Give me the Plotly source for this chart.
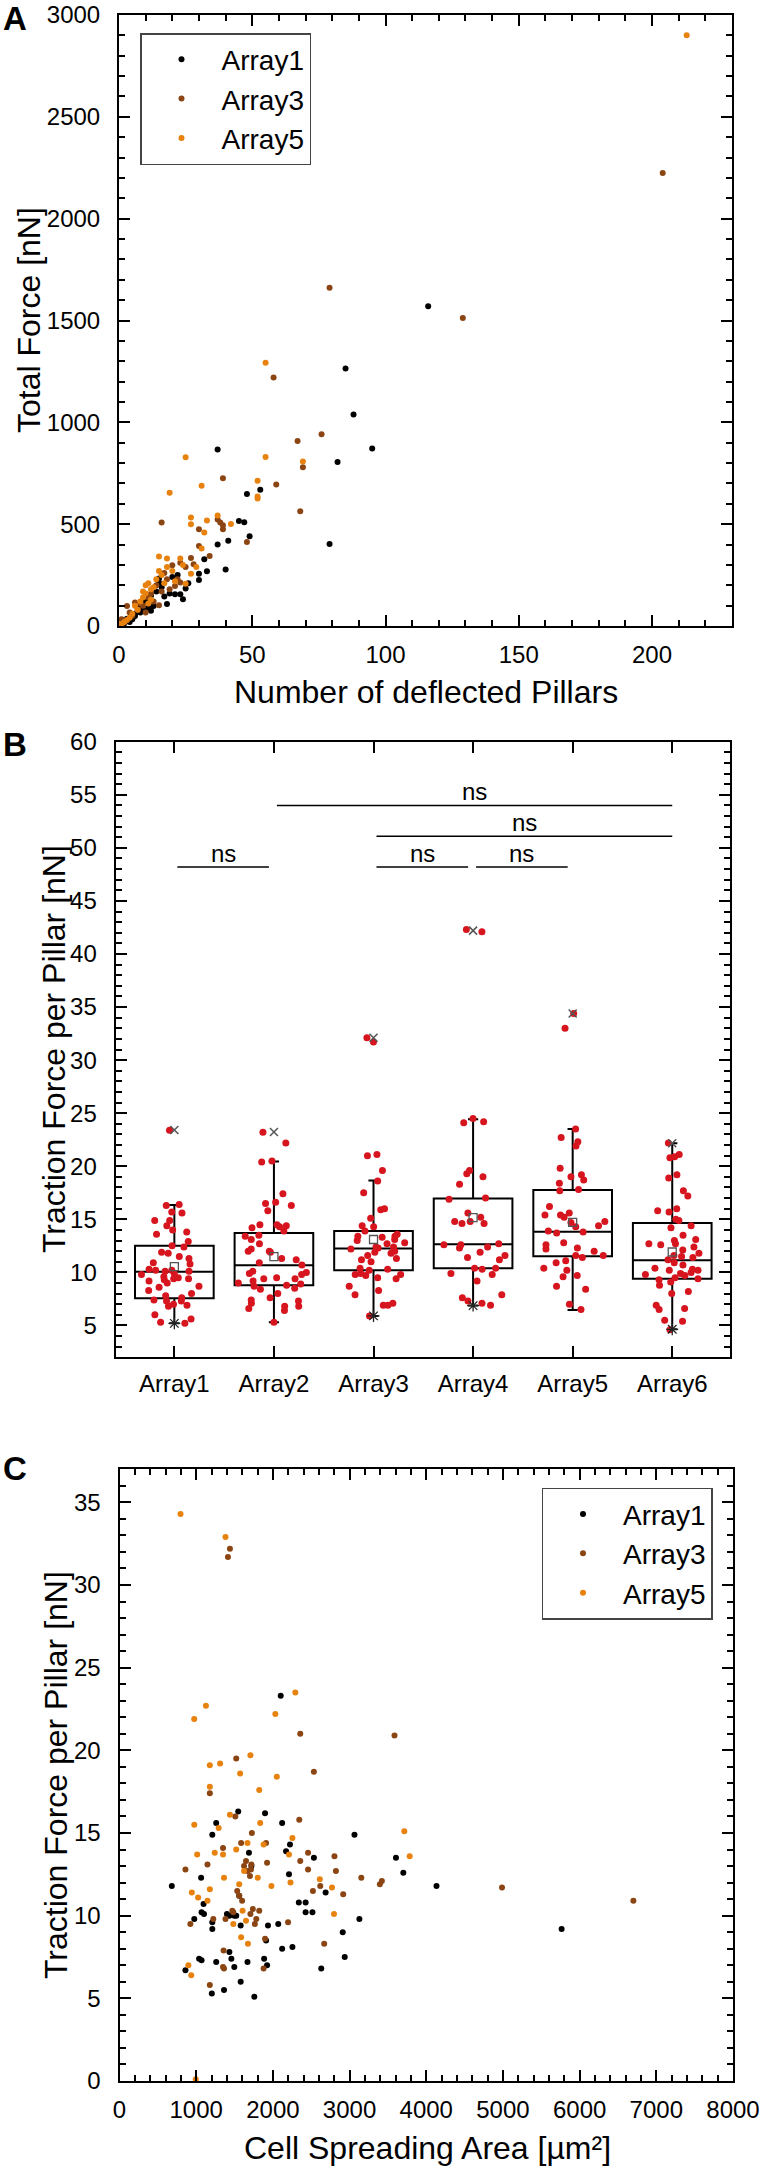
import plotly.graph_objects as go

FONT = "Liberation Sans, Arial, sans-serif"
W, H = 762, 2172

# ---------------- Panel A: number of deflected pillars vs total force ----------------
a1_pillars = [116, 85, 88, 95, 82, 79, 37, 48, 53, 45, 47, 49, 41, 37, 32, 40, 33, 30, 30, 25, 24, 21, 23, 18,
              15, 15, 13, 11, 9, 8, 6, 5, 4, 2, 1, 12, 16, 20, 10, 7, 3, 14, 19, 22, 26, 12, 17, 6]
a1_force = [1570, 1264, 1039, 872, 805, 403, 866, 648, 669, 516, 510, 441, 418, 400, 328, 277, 269, 256, 226, 184,
            131, 156, 156, 108, 233, 213, 98, 90, 82, 66, 49, 33, 20, 13, 8, 150, 190, 240, 120, 90, 35, 170, 160,
            250, 210, 75, 145, 60]
a3_pillars = [204, 79, 129, 58, 76, 67, 69, 59, 39, 68, 16, 38, 39, 37, 39, 30, 48, 30, 34, 27, 25, 23, 20, 23, 21,
              28, 15, 6, 3, 4, 1, 10, 18, 12, 14, 8, 17, 19, 11, 5, 9, 13, 22, 7, 2, 16]
a3_force = [2224, 1661, 1512, 1220, 941, 908, 780, 695, 726, 564, 508, 508, 475, 523, 495, 475, 413, 393, 344, 334,
            290, 311, 298, 213, 197, 303, 102, 115, 98, 66, 33, 66, 230, 160, 200, 110, 260, 180, 140, 50, 100, 120,
            230, 80, 20, 170]
a5_pillars = [213, 55, 55, 69, 52, 52, 52, 31, 25, 19, 27, 27, 33, 37, 42, 32, 31, 15, 18, 23, 29, 25, 27, 15, 10,
              12, 11, 9, 13, 14, 8, 6, 7, 5, 4, 3, 2, 16, 17, 20, 21, 24, 10, 12, 9, 11, 1, 18]
a5_force = [2900, 1293, 830, 808, 713, 636, 626, 689, 828, 654, 533, 500, 518, 543, 501, 459, 380, 341, 331, 331,
            290, 207, 257, 270, 200, 180, 210, 140, 190, 230, 120, 100, 80, 60, 40, 30, 20, 250, 210, 270, 220, 300,
            160, 130, 170, 110, 10, 290]

# ---------------- Panel B: traction force per pillar per array ----------------
b_categories = ["Array1", "Array2", "Array3", "Array4", "Array5", "Array6"]
b_array1 = [23.4, 16.4, 16.3, 15.7, 15.6, 14.9, 14.9, 14.4, 14.0, 13.8, 13.6, 12.9, 12.5, 12.4, 11.9, 11.8, 11.5,
            11.3, 10.9, 10.8, 10.3, 10.2, 10.2, 10.1, 10.1, 9.9, 9.8, 9.6, 9.5, 9.4, 9.4, 9.3, 9.2, 9.0, 8.7, 8.6,
            8.3, 8.0, 7.8, 7.4, 7.3, 7.3, 7.0, 6.9, 6.8, 6.0, 5.6, 5.3, 5.2, 7.6]
b_array2 = [23.2, 22.2, 20.5, 20.4, 17.4, 16.6, 16.5, 16.3, 15.8, 14.5, 14.5, 14.4, 14.3, 14.2, 13.9, 13.5, 13.4,
            13.1, 12.7, 12.2, 12.0, 12.0, 11.9, 11.3, 11.2, 10.9, 10.7, 10.1, 10.0, 9.9, 9.8, 9.5, 9.4, 9.4, 9.2,
            9.0, 8.9, 8.8, 8.7, 8.5, 8.4, 8.0, 7.6, 7.4, 7.3, 7.1, 6.8, 6.8, 6.6, 6.4, 5.3]
b_array3 = [32.1, 31.7, 21.1, 21.0, 19.6, 18.6, 17.5, 16.0, 15.9, 15.1, 14.4, 14.3, 13.9, 13.6, 13.4, 13.4, 13.3,
            13.1, 13.0, 12.8, 12.7, 12.4, 12.4, 12.3, 12.2, 12.0, 11.9, 11.8, 11.6, 11.3, 11.2, 11.0, 10.4, 10.3,
            10.2, 9.9, 9.8, 9.8, 9.7, 9.5, 9.4, 8.7, 8.3, 7.9, 7.1, 6.9, 6.9, 5.9]
b_array4 = [42.3, 42.1, 24.5, 24.2, 24.1, 19.6, 19.3, 19.0, 18.3, 17.0, 16.9, 15.6, 15.2, 14.8, 14.8, 14.6, 14.6,
            12.7, 12.6, 12.6, 12.4, 12.3, 11.9, 11.6, 11.4, 11.2, 10.4, 10.4, 10.3, 9.9, 9.8, 9.2, 7.9, 7.6, 7.3,
            7.1, 6.9]
b_array5 = [34.4, 33.0, 23.5, 22.7, 22.3, 21.9, 19.8, 19.2, 19.0, 18.7, 18.4, 17.8, 17.7, 16.2, 15.6, 15.4, 15.4,
            15.2, 14.8, 14.7, 14.4, 14.3, 13.9, 13.8, 13.7, 12.8, 12.6, 12.3, 12.2, 12.0, 11.6, 11.6, 11.4, 11.1,
            10.9, 10.4, 10.2, 9.7, 9.6, 8.7, 8.4, 7.0, 6.5]
b_array6 = [22.2, 21.1, 20.9, 20.8, 19.2, 18.9, 17.7, 17.2, 16.0, 15.8, 15.7, 15.0, 14.9, 14.4, 14.2, 13.5, 13.1,
            13.0, 12.7, 12.7, 12.6, 12.4, 12.1, 11.8, 11.6, 11.5, 11.4, 11.2, 10.9, 10.7, 10.4, 10.3, 10.2, 10.0,
            9.9, 9.8, 9.7, 9.5, 9.4, 9.3, 9.1, 8.8, 8.2, 8.0, 6.9, 6.6, 6.5, 5.5, 5.4, 4.6, 10.2]
b_q1 = [7.56, 8.78, 10.2, 10.39, 11.52, 9.41]
b_median = [10.07, 10.67, 12.24, 12.65, 13.84, 11.14]
b_q3 = [12.52, 13.72, 13.9, 16.95, 17.77, 14.66]
b_mean = [10.54, 11.49, 13.1, 15.16, 14.72, 11.92]
b_whisker_low = [5.2, 5.3, 5.9, 6.87, 6.46, 4.64]
b_whisker_high = [16.35, 20.44, 18.65, 24.43, 23.51, 22.16]
b_max_mark = [23.42, 23.23, 32.1, 42.2, 34.4, 22.16]
b_min_mark = [5.2, None, 5.9, 6.87, None, 4.64]
# significance brackets: (from category, to category, level)
sig_from = [1, 3, 4, 3, 2]
sig_to = [2, 4, 5, 6, 6]
sig_level = [48.2, 48.2, 48.2, 51.1, 54.0]
sig_text = ["ns", "ns", "ns", "ns", "ns"]

# ---------------- Panel C: cell spreading area vs traction per pillar ----------------
c1_area = [682, 860, 975, 1064, 1038, 1070, 1096, 1070, 1102, 1210, 1210, 1210, 1204, 1261, 1261, 1363, 1401, 1433,
           1497, 1522, 1433, 1459, 1497, 1548, 1561, 1580, 1580, 1688, 1669, 1720, 1758, 1898, 1886, 1911, 1936,
           1924, 2070, 2121, 2121, 2172, 2223, 2210, 2255, 2338, 2427, 2427, 2516, 2535, 2688, 2631, 2911, 2937,
           3064, 3128, 3605, 3701, 4134, 5765, 2102]
c1_force = [11.8, 6.7, 9.8, 12.3, 7.4, 7.3, 10.7, 10.2, 10.1, 14.9, 9.2, 9.6, 5.3, 15.6, 7.2, 5.5, 10.1, 10.0, 10.0,
            10.0, 7.8, 7.4, 6.9, 16.3, 11.2, 9.4, 6.0, 13.8, 7.2, 13.0, 5.1, 16.2, 7.4, 8.5, 9.4, 7.0, 9.5, 15.6, 8.0,
            13.9, 14.3, 12.5, 8.1, 10.8, 10.8, 10.2, 10.2, 13.5, 11.4, 6.8, 9.0, 7.5, 14.9, 9.8, 13.5, 12.6, 11.8,
            9.2, 23.3]
c3_area = [860, 924, 1147, 1178, 1178, 1223, 1350, 1357, 1350, 1363, 1382, 1471, 1484, 1522, 1510, 1535, 1561, 1586,
           1599, 1624, 1650, 1669, 1701, 1726, 1720, 1714, 1739, 1707, 1765, 1784, 1822, 1911, 1924, 1898, 1879,
           2198, 2344, 2357, 2459, 2459, 2522, 2535, 2618, 2669, 2803, 2822, 2917, 3153, 3395, 3421, 4988, 6701,
           1440, 1414, 2357, 3586]
c3_force = [12.8, 9.5, 13.1, 17.4, 5.8, 9.8, 14.1, 7.9, 6.9, 6.8, 9.8, 10.3, 10.2, 19.5, 16.0, 11.5, 11.2, 14.4,
            10.9, 13.0, 13.3, 12.7, 12.4, 15.0, 13.1, 12.8, 10.4, 10.1, 9.5, 9.8, 10.3, 14.4, 13.2, 8.6, 6.8, 9.6,
            15.8, 13.3, 13.8, 12.8, 11.5, 18.7, 11.8, 8.3, 13.6, 12.7, 11.3, 12.3, 11.9, 12.1, 11.7, 10.9, 32.2,
            31.7, 21.0, 20.9]
c5_area = [796, 1382, 2293, 1127, 974, 2032, 1178, 1312, 1707, 898, 936, 943, 975, 1013, 1025, 1147, 1178, 1178,
           1242, 1293, 1350, 1363, 1440, 1484, 1522, 1561, 1573, 1586, 1605, 1624, 1650, 1669, 1675, 1803, 1822,
           1835, 1879, 1981, 2051, 2210, 2230, 2255, 2612, 2771, 2797, 3714, 3784, 994]
c5_force = [34.3, 32.9, 23.5, 22.7, 21.9, 22.2, 19.1, 19.2, 19.7, 7.0, 6.4, 11.4, 15.5, 13.7, 11.1, 10.9, 17.8, 11.6,
            13.8, 15.3, 13.7, 12.3, 16.1, 9.5, 14.0, 11.9, 18.6, 8.7, 10.3, 12.7, 9.7, 14.4, 8.3, 12.3, 17.6, 15.6,
            14.3, 11.8, 18.4, 13.7, 12.0, 14.7, 12.2, 11.7, 10.1, 15.1, 13.6, 0.1]

series_names = ["Array1", "Array3", "Array5"]
series_colors = ["#000000", "#8B4513", "#E8820E"]
RED = "#D7151E"

fig = go.Figure()

# Panel A traces
for name, col, xs, ys in zip(series_names, series_colors,
                             [a1_pillars, a3_pillars, a5_pillars], [a1_force, a3_force, a5_force]):
    fig.add_trace(go.Scatter(x=xs, y=ys, mode="markers", name=name, xaxis="x", yaxis="y",
                             marker=dict(color=col, size=6), legend="legend"))

# Panel B traces
cat_pos = list(range(1, len(b_categories) + 1))
fig.add_trace(go.Box(x=cat_pos, q1=b_q1, median=b_median, q3=b_q3, lowerfence=b_whisker_low,
                     upperfence=b_whisker_high, xaxis="x2", yaxis="y2", width=0.79, whiskerwidth=0.13,
                     line=dict(color="black", width=2), fillcolor="rgba(0,0,0,0)", showlegend=False,
                     boxpoints=False))
all_vals = [b_array1, b_array2, b_array3, b_array4, b_array5, b_array6]
px_, py_ = [], []
for i, vals in enumerate(all_vals):
    px_ += [cat_pos[i]] * len(vals)
    py_ += vals
fig.add_trace(go.Box(x=px_, y=py_, xaxis="x2", yaxis="y2", boxpoints="all", jitter=1.0, pointpos=0,
                     width=0.79, line=dict(width=0, color="rgba(0,0,0,0)"), fillcolor="rgba(0,0,0,0)",
                     marker=dict(color=RED, size=7), showlegend=False))
fig.add_trace(go.Scatter(x=cat_pos, y=b_mean, mode="markers", xaxis="x2", yaxis="y2", showlegend=False,
                         marker=dict(symbol="square-open", size=8, color="#555555", line=dict(width=1.3))))
fig.add_trace(go.Scatter(x=cat_pos, y=b_max_mark, mode="markers", xaxis="x2", yaxis="y2", showlegend=False,
                         marker=dict(symbol="x-thin-open", size=8, color="#555555", line=dict(width=1.5))))
fig.add_trace(go.Scatter(x=cat_pos, y=b_min_mark, mode="markers", xaxis="x2", yaxis="y2", showlegend=False,
                         marker=dict(symbol="asterisk-open", size=10, color="#222222", line=dict(width=1.3))))

# Panel C traces
for name, col, xs, ys in zip(series_names, series_colors,
                             [c1_area, c3_area, c5_area], [c1_force, c3_force, c5_force]):
    fig.add_trace(go.Scatter(x=xs, y=ys, mode="markers", name=name, xaxis="x3", yaxis="y3",
                             marker=dict(color=col, size=6), legend="legend2"))


def px2x(p):
    return p / W


def px2y(p):
    return 1 - p / H


tickfont = dict(family=FONT, size=24, color="black")


def axis(domain, rng, dtick, minor_dtick=None, tick0=0, standoff=8, **kw):
    d = dict(domain=domain, range=rng, dtick=dtick, tick0=tick0, showline=True, linecolor="black",
             linewidth=2, mirror="allticks", ticks="inside", ticklen=11, tickwidth=2, tickcolor="black",
             showgrid=False, zeroline=False, tickfont=tickfont, ticklabelstandoff=standoff, automargin=False,
             ticklabeloverflow="allow")
    if minor_dtick:
        d["minor"] = dict(ticks="inside", ticklen=6, tickwidth=1.5, tickcolor="black", dtick=minor_dtick,
                          showgrid=False)
    d.update(kw)
    return d


A_dom_x = [px2x(119), px2x(732)]
A_dom_y = [px2y(626), px2y(15)]
B_dom_x = [px2x(115.6), px2x(730)]
B_dom_y = [px2y(1357.3), px2y(741.7)]
C_dom_x = [px2x(119.5), px2x(733)]
C_dom_y = [px2y(2081), px2y(1469.3)]

legend_style = dict(xanchor="left", yanchor="top", bordercolor="#444444", borderwidth=1.5, bgcolor="white",
                    font=dict(family=FONT, size=28, color="black"), tracegroupgap=0, itemwidth=70,
                    entrywidth=95)

fig.update_layout(
    width=W, height=H, margin=dict(l=0, r=0, t=0, b=0, autoexpand=False), paper_bgcolor="white",
    plot_bgcolor="white", font=dict(family=FONT, color="black"),
    xaxis=axis(A_dom_x, [0, 230], 50, 10, anchor="y", standoff=6),
    yaxis=axis(A_dom_y, [0, 3000], 500, 100, anchor="x", standoff=12),
    xaxis2=axis(B_dom_x, [0.41, 6.58], None, None, anchor="y2", tickmode="array", tickvals=cat_pos,
                ticktext=b_categories, standoff=4),
    yaxis2=axis(B_dom_y, [2, 60], 5, 1, anchor="x2", standoff=12),
    xaxis3=axis(C_dom_x, [0, 8000], 1000, 200, anchor="y3", standoff=6),
    yaxis3=axis(C_dom_y, [0, 37], 5, 1, anchor="x3", standoff=12),
    boxmode="overlay",
    legend=dict(x=px2x(140), y=px2y(33), **legend_style),
    legend2=dict(x=px2x(541.5), y=px2y(1487.7), **legend_style),
)

ann = []
title_font = dict(family=FONT, size=32, color="black")
ann.append(dict(text="Number of deflected Pillars", x=px2x(425.5), y=px2y(692), xref="paper", yref="paper",
                showarrow=False, font=title_font, xanchor="center", yanchor="middle"))
ann.append(dict(text="Total Force [nN]", x=px2x(29), y=px2y(320), xref="paper", yref="paper", textangle=-90,
                showarrow=False, font=title_font, xanchor="center", yanchor="middle"))
ann.append(dict(text="Traction Force per Pillar [nN]", x=px2x(54), y=px2y(1049), xref="paper", yref="paper",
                textangle=-90, showarrow=False, font=title_font, xanchor="center", yanchor="middle"))
ann.append(dict(text="Traction Force per Pillar [nN]", x=px2x(56), y=px2y(1775), xref="paper", yref="paper",
                textangle=-90, showarrow=False, font=title_font, xanchor="center", yanchor="middle"))
ann.append(dict(text="Cell Spreading Area [µm²]", x=px2x(427), y=px2y(2148), xref="paper", yref="paper",
                showarrow=False, font=title_font, xanchor="center", yanchor="middle"))
for lab, yy in zip(["A", "B", "C"], [19, 744, 1468]):
    ann.append(dict(text="<b>" + lab + "</b>", x=px2x(1), y=px2y(yy), xref="paper", yref="paper",
                    showarrow=False, font=dict(family=FONT, size=33, color="black"), xanchor="left",
                    yanchor="middle"))

shapes = []
for f, t, lv, tx in zip(sig_from, sig_to, sig_level, sig_text):
    x0 = f + 0.03
    x1 = t - 0.05 if t - f == 1 else t
    shapes.append(dict(type="line", xref="x2", yref="y2", x0=x0, x1=x1, y0=lv, y1=lv,
                       line=dict(color="black", width=1.5)))
    ann.append(dict(text=tx, x=(x0 + x1) / 2, y=lv, xref="x2", yref="y2", showarrow=False, yanchor="bottom",
                    yshift=-2, font=dict(family=FONT, size=24, color="black")))

fig.update_layout(annotations=ann, shapes=shapes)
# remove the default page margin so the figure fills the window exactly; hide the mode bar
fig.write_html("out.html", post_script="document.body.style.margin='0';",
               config={"displayModeBar": False})
